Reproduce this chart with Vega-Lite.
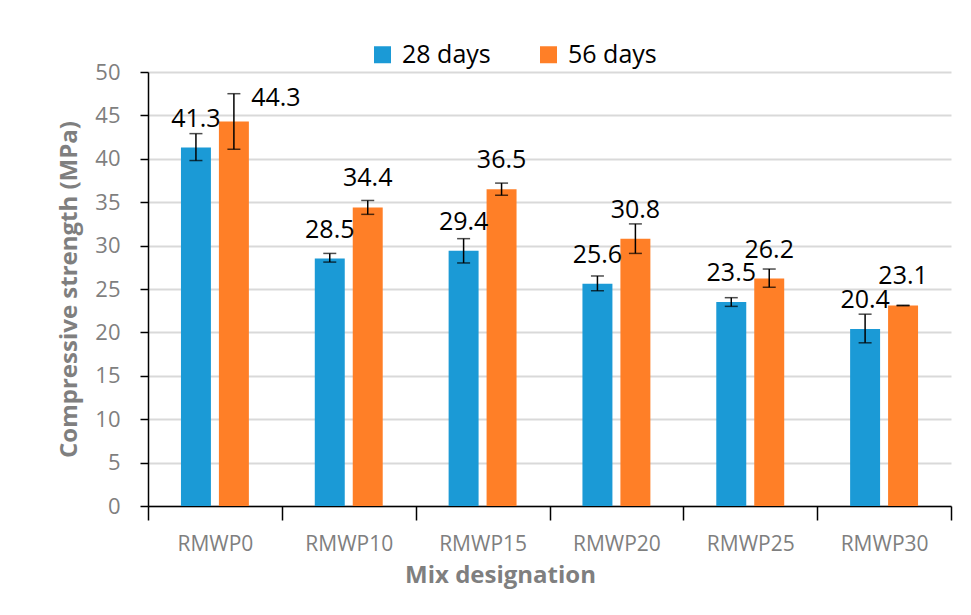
{
  "$schema": "https://vega.github.io/schema/vega-lite/v6.json",
  "width": 803,
  "height": 434,
  "autosize": {"type": "none"},
  "padding": {"left": 148, "top": 72, "right": 20, "bottom": 109},
  "background": "white",
  "config": {"view": {"stroke": null}, "font": "Open Sans"},
  "data": {
    "values": [
      {"mix": "RMWP0", "age": "28 days", "strength": 41.3, "lo": 39.8, "hi": 42.9},
      {"mix": "RMWP0", "age": "56 days", "strength": 44.3, "lo": 41.1, "hi": 47.5},
      {"mix": "RMWP10", "age": "28 days", "strength": 28.5, "lo": 28.1, "hi": 29.1},
      {"mix": "RMWP10", "age": "56 days", "strength": 34.4, "lo": 33.6, "hi": 35.2},
      {"mix": "RMWP15", "age": "28 days", "strength": 29.4, "lo": 28.0, "hi": 30.8},
      {"mix": "RMWP15", "age": "56 days", "strength": 36.5, "lo": 35.8, "hi": 37.2},
      {"mix": "RMWP20", "age": "28 days", "strength": 25.6, "lo": 24.8, "hi": 26.5},
      {"mix": "RMWP20", "age": "56 days", "strength": 30.8, "lo": 29.1, "hi": 32.5},
      {"mix": "RMWP25", "age": "28 days", "strength": 23.5, "lo": 23.0, "hi": 24.0},
      {"mix": "RMWP25", "age": "56 days", "strength": 26.2, "lo": 25.2, "hi": 27.3},
      {"mix": "RMWP30", "age": "28 days", "strength": 20.4, "lo": 18.8, "hi": 22.1},
      {"mix": "RMWP30", "age": "56 days", "strength": 23.1, "lo": 23.07, "hi": 23.13}
    ]
  },
  "encoding": {
    "x": {
      "field": "mix",
      "type": "nominal",
      "sort": null,
      "scale": {"paddingInner": 0, "paddingOuter": 0},
      "axis": {
        "labelAngle": 0,
        "tickBand": "extent",
        "tickSize": 14,
        "tickColor": "black",
        "tickWidth": 1.5,
        "domainColor": "black",
        "domainWidth": 1.5,
        "labelColor": "#7f7f7f",
        "labelFontSize": 21,
        "labelPadding": 13,
        "title": "Mix designation",
        "titleFontSize": 24,
        "titleFontWeight": "bold",
        "titleColor": "#7f7f7f",
        "titleX": 352,
        "titleY": 57
      }
    },
    "xOffset": {
      "field": "age",
      "type": "nominal",
      "scale": {"paddingInner": 0.2105, "paddingOuter": 0.868}
    }
  },
  "layer": [
    {
      "mark": {"type": "bar"},
      "encoding": {
        "y": {
          "field": "strength",
          "type": "quantitative",
          "scale": {"domain": [0, 50]},
          "axis": {
            "values": [0, 5, 10, 15, 20, 25, 30, 35, 40, 45, 50],
            "domainColor": "black",
            "domainWidth": 1.5,
            "tickColor": "black",
            "tickSize": 8,
            "tickWidth": 1.5,
            "gridColor": "#d9d9d9",
            "gridWidth": 2,
            "labelColor": "#7f7f7f",
            "labelFontSize": 22,
            "labelPadding": 20,
            "title": "Compressive strength (MPa)",
            "titleFontSize": 24,
            "titleFontWeight": "bold",
            "titleColor": "#7f7f7f",
            "titlePadding": 13
          }
        },
        "color": {
          "field": "age",
          "type": "nominal",
          "scale": {"domain": ["28 days", "56 days"], "range": ["#1B9AD6", "#FF7F27"]},
          "legend": {
            "orient": "none",
            "legendX": 222,
            "legendY": -30,
            "direction": "horizontal",
            "title": null,
            "symbolType": "square",
            "symbolSize": 289,
            "symbolStrokeWidth": 0,
            "labelFontSize": 25,
            "labelColor": "black",
            "columnPadding": 45,
            "labelOffset": 7
          }
        }
      }
    },
    {
      "mark": {"type": "rule", "color": "black", "strokeWidth": 1.5},
      "encoding": {
        "y": {"field": "lo", "type": "quantitative"},
        "y2": {"field": "hi"}
      }
    },
    {
      "mark": {"type": "tick", "color": "black", "thickness": 1.5, "size": 13},
      "encoding": {"y": {"field": "lo", "type": "quantitative"}}
    },
    {
      "mark": {"type": "tick", "color": "black", "thickness": 1.5, "size": 13},
      "encoding": {"y": {"field": "hi", "type": "quantitative"}}
    },
    {
      "transform": [{"filter": "!(datum.mix == 'RMWP0' && datum.age == '56 days')"}],
      "mark": {"type": "text", "fontSize": 25, "color": "black", "baseline": "alphabetic", "dy": -21},
      "encoding": {
        "y": {"field": "strength", "type": "quantitative"},
        "text": {"field": "strength", "type": "quantitative", "format": ".1f"}
      }
    },
    {
      "transform": [{"filter": "datum.mix == 'RMWP0' && datum.age == '56 days'"}],
      "mark": {"type": "text", "fontSize": 25, "color": "black", "baseline": "alphabetic", "dy": -15, "dx": 42},
      "encoding": {
        "y": {"field": "strength", "type": "quantitative"},
        "text": {"field": "strength", "type": "quantitative", "format": ".1f"}
      }
    }
  ]
}
